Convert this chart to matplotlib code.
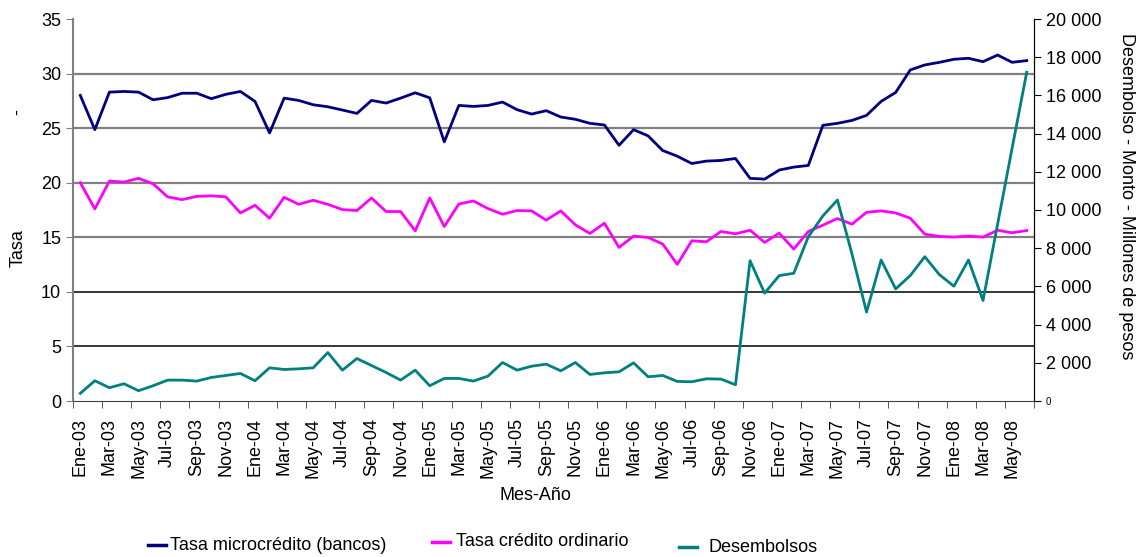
import matplotlib.pyplot as plt
from matplotlib.lines import Line2D
from matplotlib.ticker import FuncFormatter
import numpy as np

plt.rcParams['font.family'] = ['Liberation Sans', 'DejaVu Sans']

# Meses: Ene-03 a Jun-08
meses = ['Ene', 'Feb', 'Mar', 'Abr', 'May', 'Jun', 'Jul', 'Ago', 'Sep', 'Oct', 'Nov', 'Dic']
anios = ['03', '04', '05', '06', '07', '08']
etiquetas = [m + '-' + a for a in anios for m in meses][:66]

tasa_micro = [28.0, 24.86, 28.3, 28.36, 28.3, 27.6, 27.8, 28.2, 28.2, 27.7, 28.1, 28.36,
              27.45, 24.56, 27.75, 27.54, 27.14, 26.96, 26.66, 26.35, 27.54, 27.3, 27.75, 28.24,
              27.78, 23.74, 27.08, 26.99, 27.08, 27.39, 26.69, 26.29, 26.6, 26.02, 25.81, 25.44,
              25.29, 23.43, 24.86, 24.29, 22.95, 22.43, 21.76, 21.98, 22.04, 22.22, 20.4, 20.33,
              21.16, 21.43, 21.58, 25.26, 25.44, 25.71, 26.17, 27.45, 28.27, 30.33, 30.79, 31.03,
              31.31, 31.4, 31.09, 31.7, 31.03, 31.19]

tasa_ordinario = [20.0, 17.6, 20.15, 20.06, 20.4, 19.9, 18.7, 18.45, 18.75, 18.8, 18.7, 17.23,
                  17.93, 16.75, 18.66, 18.02, 18.39, 18.02, 17.54, 17.45, 18.6, 17.36, 17.36, 15.59,
                  18.6, 15.99, 18.05, 18.33, 17.63, 17.11, 17.45, 17.42, 16.57, 17.42, 16.14, 15.35,
                  16.29, 14.07, 15.11, 14.98, 14.38, 12.52, 14.68, 14.59, 15.53, 15.32, 15.65, 14.53,
                  15.38, 13.92, 15.53, 16.11, 16.72, 16.2, 17.29, 17.42, 17.23, 16.75, 15.29, 15.08,
                  15.02, 15.11, 15.02, 15.65, 15.41, 15.62]

desembolsos = [400, 1060, 695, 903, 538, 799, 1094, 1094, 1042, 1233, 1337, 1441,
               1060, 1737, 1650, 1685, 1737, 2536, 1615, 2223, 1858, 1494, 1094, 1615,
               799, 1181, 1181, 1042, 1303, 2015, 1615, 1823, 1928, 1580, 2015, 1389,
               1476, 1528, 1997, 1268, 1337, 1025, 1007, 1163, 1147, 851, 7347, 5645,
               6565, 6687, 8598, 9691, 10524, 7694, 4655, 7382, 5870, 6565, 7555, 6617,
               6010, 7382, 5263, 9257, 13251, 17211]

azul = '#000080'
rosa = '#FF00FF'
verde = '#008080'

fig = plt.figure(figsize=(11.38, 5.57), dpi=100)
ax = fig.add_axes([73 / 1138, 1 - 401 / 557, (1034 - 73) / 1138, (401 - 19) / 557])
ax2 = ax.twinx()

x = np.arange(len(etiquetas))

# lineas de division
for v in [15, 20, 25, 30]:
    ax.axhline(v, color='#808080', lw=1.6, zorder=0)
for v in [5, 10]:
    ax.axhline(v, color='black', lw=1.1, zorder=0)

ax.plot(x, tasa_micro, color=azul, lw=2.0, zorder=3)
ax.plot(x, tasa_ordinario, color=rosa, lw=2.0, zorder=3)
ax2.plot(x, desembolsos, color=verde, lw=2.0, zorder=3)

ax.set_xlim(-0.5, len(etiquetas) - 0.5)
ax.set_ylim(0, 35)
ax2.set_ylim(0, 20000)

ax.set_yticks(np.arange(0, 36, 5))
ax2.set_yticks(np.arange(0, 20001, 2000))
ax2.yaxis.set_major_formatter(FuncFormatter(lambda v, p: f"{v:,.0f}".replace(",", " ")))

ax.set_xticks(x[::2])
ax.set_xticklabels(etiquetas[::2], rotation=90, fontsize=13)
ax.set_xticks(np.arange(-0.5, len(etiquetas), 2), minor=True)
ax.tick_params(axis='x', which='major', length=0, pad=12)
ax.tick_params(axis='x', which='minor', length=5, direction='out', color='#404040')
ax.tick_params(axis='y', labelsize=13, length=5, color='#808080')
ax2.tick_params(axis='y', labelsize=13, length=5)
ax2.get_yticklabels()[0].set_fontsize(7)

for s in ['top']:
    ax.spines[s].set_visible(False)
    ax2.spines[s].set_visible(False)
ax.spines['left'].set_color('#808080')
ax.spines['left'].set_linewidth(1.5)
ax.spines['bottom'].set_color('#404040')
ax2.spines['left'].set_visible(False)
ax2.spines['bottom'].set_visible(False)
ax2.spines['right'].set_color('black')

fig.text(535 / 1138, 1 - 495 / 557, 'Mes-Año', ha='center', va='center', fontsize=13)
fig.text(18 / 1138, 1 - 248 / 557, 'Tasa', ha='center', va='center', rotation=90, fontsize=13)
fig.text(18 / 1138, 1 - 112 / 557, '-', ha='center', va='center', rotation=90, fontsize=13)
fig.text(1127 / 1138, 1 - 196 / 557, 'Desembolso - Monto - Millones de pesos',
         ha='center', va='center', rotation=-90, fontsize=13)

# leyenda
items = [('Tasa microcrédito (bancos)', azul, 148, 166, 170, 545),
         ('Tasa crédito ordinario', rosa, 432, 450, 456, 542),
         ('Desembolsos', verde, 679, 697, 709, 547)]
for texto, color, x0, x1, xt, y in items:
    fig.add_artist(Line2D([x0 / 1138, x1 / 1138], [1 - y / 557, 1 - y / 557],
                          color=color, lw=2.5, transform=fig.transFigure))
    fig.text(xt / 1138, 1 - y / 557, texto, ha='left', va='center', fontsize=13)

fig.savefig('out.png', dpi=100)
